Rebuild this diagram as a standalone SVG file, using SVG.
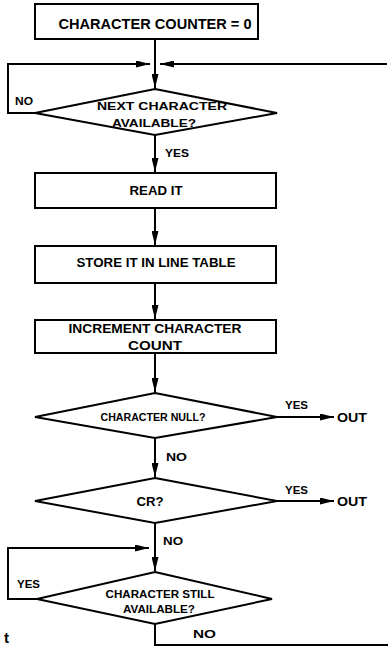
<svg xmlns="http://www.w3.org/2000/svg" width="389" height="647" viewBox="0 0 389 647">
<style>
.b{fill:#fff;stroke:#000;stroke-width:2}
.c{fill:none;stroke:#000;stroke-width:2}
text{font-family:"Liberation Sans",Arial,sans-serif;font-weight:bold;fill:#000}
.m{text-anchor:middle}
</style>
<defs>
<marker id="ah" viewBox="0 0 14 7" refX="14" refY="3.5" markerWidth="14" markerHeight="7" markerUnits="userSpaceOnUse" orient="auto">
<path d="M0,0 L14,3.5 L0,7 Z" fill="#000"/>
</marker>
</defs>
<rect width="389" height="647" fill="#fff"/>
<g id="connectors">
<path class="c" d="M155,39 V88" marker-end="url(#ah)"/>
<path class="c" d="M35,113 H8 V64 H150" marker-end="url(#ah)"/>
<path class="c" d="M387,64 H160" marker-end="url(#ah)"/>
<path class="c" d="M155,135 V172" marker-end="url(#ah)"/>
<path class="c" d="M155,208 V245" marker-end="url(#ah)"/>
<path class="c" d="M155,283 V319" marker-end="url(#ah)"/>
<path class="c" d="M155,353 V392" marker-end="url(#ah)"/>
<path class="c" d="M277,417 H334" marker-end="url(#ah)"/>
<path class="c" d="M155,438 V477" marker-end="url(#ah)"/>
<path class="c" d="M277,501 H334" marker-end="url(#ah)"/>
<path class="c" d="M155,523 V571" marker-end="url(#ah)"/>
<path class="c" d="M37,599 H8 V548 H149" marker-end="url(#ah)"/>
<path class="c" d="M155,624 V645 H388"/>
<text x="15" y="105" font-size="11" textLength="18" lengthAdjust="spacingAndGlyphs">NO</text>
<text x="165" y="157" font-size="11" textLength="24" lengthAdjust="spacingAndGlyphs">YES</text>
<text x="285" y="409" font-size="11" textLength="23" lengthAdjust="spacingAndGlyphs">YES</text>
<text x="337" y="422" font-size="12" textLength="30" lengthAdjust="spacingAndGlyphs">OUT</text>
<text x="166" y="461" font-size="11" textLength="21" lengthAdjust="spacingAndGlyphs">NO</text>
<text x="285" y="494" font-size="11" textLength="23" lengthAdjust="spacingAndGlyphs">YES</text>
<text x="337" y="506" font-size="12" textLength="30" lengthAdjust="spacingAndGlyphs">OUT</text>
<text x="163" y="545" font-size="11" textLength="20" lengthAdjust="spacingAndGlyphs">NO</text>
<text x="17" y="588" font-size="11" textLength="23" lengthAdjust="spacingAndGlyphs">YES</text>
<text x="193" y="638" font-size="11" textLength="23" lengthAdjust="spacingAndGlyphs">NO</text>
</g>
<g id="start">
<rect class="b" x="35" y="4" width="223" height="35"/>
<text class="m" x="155" y="29" font-size="14" textLength="193" lengthAdjust="spacingAndGlyphs">CHARACTER COUNTER = 0</text>
</g>
<g id="next-available">
<path class="b" d="M155,89 L277,113 L155,135 L35,113 Z"/>
<text class="m" x="162" y="110" font-size="10" textLength="130" lengthAdjust="spacingAndGlyphs">NEXT CHARACTER</text>
<text class="m" x="154" y="127" font-size="10" textLength="84" lengthAdjust="spacingAndGlyphs">AVAILABLE?</text>
</g>
<g id="read-it">
<rect class="b" x="35" y="173" width="241" height="35"/>
<text class="m" x="156" y="195" font-size="12" textLength="53" lengthAdjust="spacingAndGlyphs">READ IT</text>
</g>
<g id="store-it">
<rect class="b" x="35" y="246" width="241" height="37"/>
<text class="m" x="156" y="267" font-size="12" textLength="159" lengthAdjust="spacingAndGlyphs">STORE IT IN LINE TABLE</text>
</g>
<g id="increment">
<rect class="b" x="35" y="320" width="241" height="33"/>
<text class="m" x="155" y="333" font-size="12" textLength="173" lengthAdjust="spacingAndGlyphs">INCREMENT CHARACTER</text>
<text class="m" x="155" y="350" font-size="12" textLength="54" lengthAdjust="spacingAndGlyphs">COUNT</text>
</g>
<g id="char-null">
<path class="b" d="M155,393 L277,417 L155,438 L35,417 Z"/>
<text class="m" x="153" y="421" font-size="10" textLength="105" lengthAdjust="spacingAndGlyphs">CHARACTER NULL?</text>
</g>
<g id="cr">
<path class="b" d="M155,478 L277,501 L155,523 L35,501 Z"/>
<text class="m" x="150" y="506" font-size="12" textLength="27" lengthAdjust="spacingAndGlyphs">CR?</text>
</g>
<g id="still-available">
<path class="b" d="M155,572 L272,599 L155,624 L37,599 Z"/>
<text class="m" x="160" y="598" font-size="10" textLength="109" lengthAdjust="spacingAndGlyphs">CHARACTER STILL</text>
<text class="m" x="159" y="613" font-size="10" textLength="72" lengthAdjust="spacingAndGlyphs">AVAILABLE?</text>
</g>
<text x="4" y="643" font-size="15">t</text>
</svg>
